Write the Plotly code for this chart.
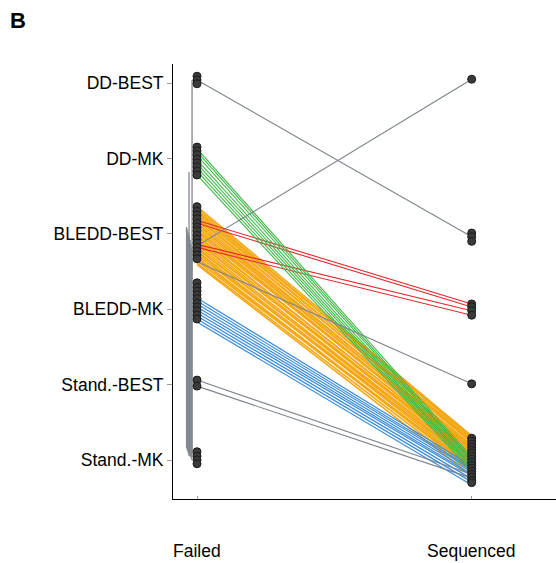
import plotly.graph_objects as go

# ---- categories / labels ----
categories = ["Stand.-MK", "Stand.-BEST", "BLEDD-MK", "BLEDD-BEST", "DD-MK", "DD-BEST"]
x_labels = ["Failed", "Sequenced"]

# ---- jittered point positions (category units) ----
failed_pts = [5.09, 5.04, 4.99,
              4.15, 4.10, 4.05, 3.99, 3.94, 3.89, 3.83, 3.78,
              3.36, 3.30, 3.25, 3.20, 3.14, 3.09, 3.04, 2.98, 2.93, 2.88, 2.82, 2.77, 2.72, 2.67,
              2.35, 2.29, 2.24, 2.19, 2.14, 2.08, 2.03, 1.98, 1.92, 1.87,
              1.06, 0.98,
              0.11, 0.05, 0.00, -0.05]
seq_pts = [5.05,
           3.01, 2.96, 2.90,
           2.07, 2.03, 1.98, 1.92,
           1.01,
           0.29, 0.25, 0.21, 0.17, 0.13, 0.09, 0.05, 0.01, -0.03, -0.07, -0.11,
           -0.15, -0.19, -0.23, -0.27, -0.30]

# ---- transitions Failed -> Sequenced ----
orange_from = [3.36, 3.33, 3.30, 3.28, 3.25, 3.22, 3.20, 3.17, 3.14, 3.12, 3.09, 3.06, 3.04, 3.01, 2.98,
               2.96, 2.93, 2.90, 2.88, 2.85, 2.82, 2.80, 2.77, 2.75, 2.72, 2.69, 2.67, 2.64, 2.61, 2.59]
orange_to = [0.32, 0.29, 0.31, 0.25, 0.27, 0.23, 0.24, 0.19, 0.20, 0.16, 0.17, 0.13, 0.11, 0.15, 0.08,
             0.09, 0.05, 0.03, 0.07, 0.00, -0.03, 0.01, -0.05, -0.08, -0.04, -0.11, -0.13, -0.09, -0.16, -0.21]
blue_from = [2.15, 2.11, 2.07, 2.03, 1.99, 1.95, 1.91, 1.87, 1.83]
blue_to = [-0.08, -0.11, -0.13, -0.16, -0.19, -0.21, -0.25, -0.29, -0.33]
red_from = [3.18, 3.14, 2.86, 2.82]
red_to = [2.07, 2.03, 1.98, 1.92]
green_from = [4.13, 4.09, 4.04, 3.98, 3.93, 3.88, 3.83, 3.78]
green_to = [0.04, 0.01, -0.01, -0.04, -0.07, -0.09, -0.12, -0.15]
grey_from = [5.04, 2.84, 2.63, 1.06, 0.98]
grey_to = [2.96, 5.05, 1.01, -0.19, -0.24]

# ---- Failed -> Failed transitions (x jitter left of the Failed column) ----
ff_x = [-0.018, -0.029, -0.038, -0.036, -0.033, -0.031, -0.028, -0.025, -0.022, -0.019]
ff_top = [5.04, 3.82, 3.09, 3.06, 3.02, 3.00, 2.97, 2.92, 2.86, 2.81]
ff_bottom = [0.07, 0.05, 0.16, 0.13, 0.11, 0.09, 0.07, 0.05, 0.03, 0.00]

fig = go.Figure()


def seg_trace(x0, x1, y0s, y1s, color, width):
    xs, ys = [], []
    for a, b in zip(y0s, y1s):
        xs += [x0, x1, None]
        ys += [a, b, None]
    return go.Scatter(x=xs, y=ys, mode="lines", line=dict(color=color, width=width),
                      hoverinfo="skip", showlegend=False)


# failed -> failed band
xs, ys = [], []
for xx, a, b in zip(ff_x, ff_top, ff_bottom):
    xs += [xx, xx, None]
    ys += [a, b, None]
fig.add_trace(go.Scatter(x=xs, y=ys, mode="lines", line=dict(color="#80868e", width=1.3),
                         hoverinfo="skip", showlegend=False))

fig.add_trace(seg_trace(0, 1, orange_from, orange_to, "#F5A816", 1.6))
fig.add_trace(seg_trace(0, 1, blue_from, blue_to, "#3A8CDA", 1.2))
fig.add_trace(seg_trace(0, 1, red_from, red_to, "#E8282C", 1.1))
fig.add_trace(seg_trace(0, 1, green_from, green_to, "#3FB847", 1.1))
fig.add_trace(seg_trace(0, 1, grey_from, grey_to, "#7d848c", 1.1))

marker = dict(size=8, color="#3a3a3a", line=dict(color="#1c1c1c", width=1))
fig.add_trace(go.Scatter(x=[0] * len(failed_pts), y=failed_pts, mode="markers",
                         marker=marker, showlegend=False))
fig.add_trace(go.Scatter(x=[1] * len(seq_pts), y=seq_pts, mode="markers",
                         marker=marker, showlegend=False))

font_family = "Liberation Sans, Arial, Helvetica, sans-serif"

fig.update_layout(
    width=556, height=563,
    margin=dict(l=173, r=0, t=64, b=64),
    plot_bgcolor="white", paper_bgcolor="white",
    font=dict(family=font_family, size=17.5, color="black"),
    xaxis=dict(range=[-0.0874, 1.307], tickvals=[0, 1], showticklabels=False,
               ticks="inside", ticklen=3, tickcolor="#999999",
               showline=True, linecolor="black", linewidth=1,
               showgrid=False, zeroline=False),
    yaxis=dict(range=[-0.517, 5.252], tickvals=list(range(len(categories))), ticktext=categories,
               ticks="outside", ticklen=5, tickcolor="#999999",
               showline=True, linecolor="black", linewidth=1,
               showgrid=False, zeroline=False, tickfont=dict(size=17.5)),
)

for i, lab in enumerate(x_labels):
    fig.add_annotation(x=i, y=-0.12, xref="x", yref="paper", text=lab, showarrow=False,
                       xanchor="center", yanchor="middle", font=dict(size=17.5))

fig.add_annotation(x=-0.405, y=1.101, xref="paper", yref="paper", text="<b>B</b>",
                   showarrow=False, xanchor="center", yanchor="middle", font=dict(size=22))

fig.write_html("out.html", config={"displayModeBar": False},
               post_script="document.body.style.margin='0';document.body.style.overflow='hidden';")
